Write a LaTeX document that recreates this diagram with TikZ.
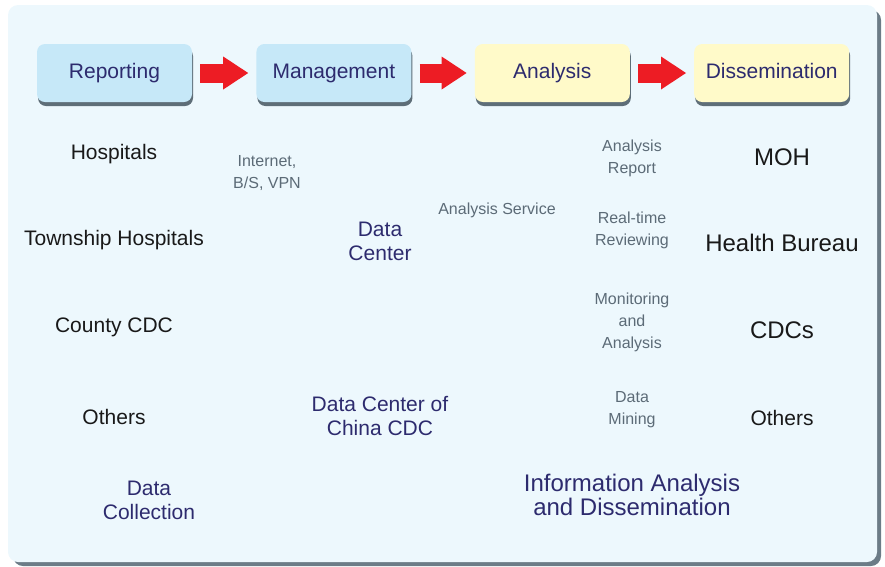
\documentclass[tikz,border=0pt]{standalone}
\usepackage{fontspec}
\setmainfont{Liberation Sans}
\usepackage{tikz}
\usetikzlibrary{positioning, arrows.meta, shadows}
\definecolor{panel}{HTML}{EDF8FD}
\definecolor{panelshade}{HTML}{6C7C87}
\definecolor{stageblue}{HTML}{C6E8F8}
\definecolor{stageyellow}{HTML}{FFFAC9}
\definecolor{boxshade}{HTML}{5E6E78}
\definecolor{flowred}{HTML}{ED1C24}
\definecolor{navy}{HTML}{2D2B6E}
\definecolor{note}{HTML}{5C6B77}
\tikzset{
  stage/.style   = {rectangle, rounded corners=8pt, fill=stageblue,
                    minimum width=155pt, minimum height=58pt, inner sep=0pt,
                    text height=15pt, text depth=4pt,
                    font=\fontsize{21}{24}\selectfont, text=navy,
                    drop shadow={shadow xshift=1pt, shadow yshift=-4pt,
                                 fill=boxshade, opacity=1}},
  stagey/.style  = {stage, fill=stageyellow},
  flow/.style    = {draw=flowred, line width=19pt, shorten <=8pt, shorten >=8pt,
                    -{Triangle[length=25pt, width=33pt, line width=0pt]}},
  unit/.style    = {align=center, inner sep=0pt, text=black!90,
                    font=\fontsize{21}{24}\selectfont},
  target/.style  = {unit, font=\fontsize{24}{27}\selectfont},
  caption/.style = {align=center, inner sep=0pt, text=navy,
                    font=\fontsize{21}{24}\selectfont},
  link/.style    = {align=center, inner sep=0pt, text=note,
                    font=\fontsize{16}{22}\selectfont},
}

\begin{document}
\begin{tikzpicture}[x=1pt, y=-1pt, node distance=64pt]

  \useasboundingbox (0,0) rectangle (885,566);

  % panel with its shadow
  \fill[panelshade, rounded corners=10pt] (13,10) rectangle (881,566);
  \fill[panel, rounded corners=10pt] (8,5) rectangle (877,562);

  % stages along the top
  \node[stage] (rep) at (114.5,73) {Reporting};
  \node[stage, right=of rep] (man) {Management};
  \node[stagey, right=63pt of man] (ana) {Analysis};
  \node[stagey, right=of ana] (dis) {Dissemination};

  \draw[flow] (rep) -- (man);
  \draw[flow] (man) -- (ana);
  \draw[flow] (ana) -- (dis);

  % reporting units
  \node[unit] (hosp) at (114,154) {Hospitals};
  \node[unit] (town) at (114,240) {Township Hospitals};
  \node[unit] (ccdc) at (114,327) {County CDC};
  \node[unit] (loth) at (114,417) {Others};
  \node[caption] (coll) at (149,500) {Data\\Collection};

  % management
  \node[link] (net) at (267,173) {Internet,\\B/S, VPN};
  \node[caption] (dc) at (380,241) {Data\\Center};
  \node[caption] (dcc) at (380,416) {Data Center of\\China CDC};

  % analysis
  \node[link] (serv) at (497,210) {Analysis Service};
  \node[link] (rpt) at (632,158) {Analysis\\Report};
  \node[link] (rtr) at (632,230) {Real-time\\Reviewing};
  \node[link] (mon) at (632,322) {Monitoring\\and\\Analysis};
  \node[link] (min) at (632,410) {Data\\Mining};
  \node[caption, font=\fontsize{24}{21}\selectfont] (info) at (632,495)
       {Information Analysis\\and Dissemination};

  % receivers
  \node[target] (moh) at (782,157) {MOH};
  \node[target] (hb) at (782,243) {Health Bureau};
  \node[target] (cdcs) at (782,330) {CDCs};
  \node[unit] (roth) at (782,418) {Others};

\end{tikzpicture}
\end{document}
